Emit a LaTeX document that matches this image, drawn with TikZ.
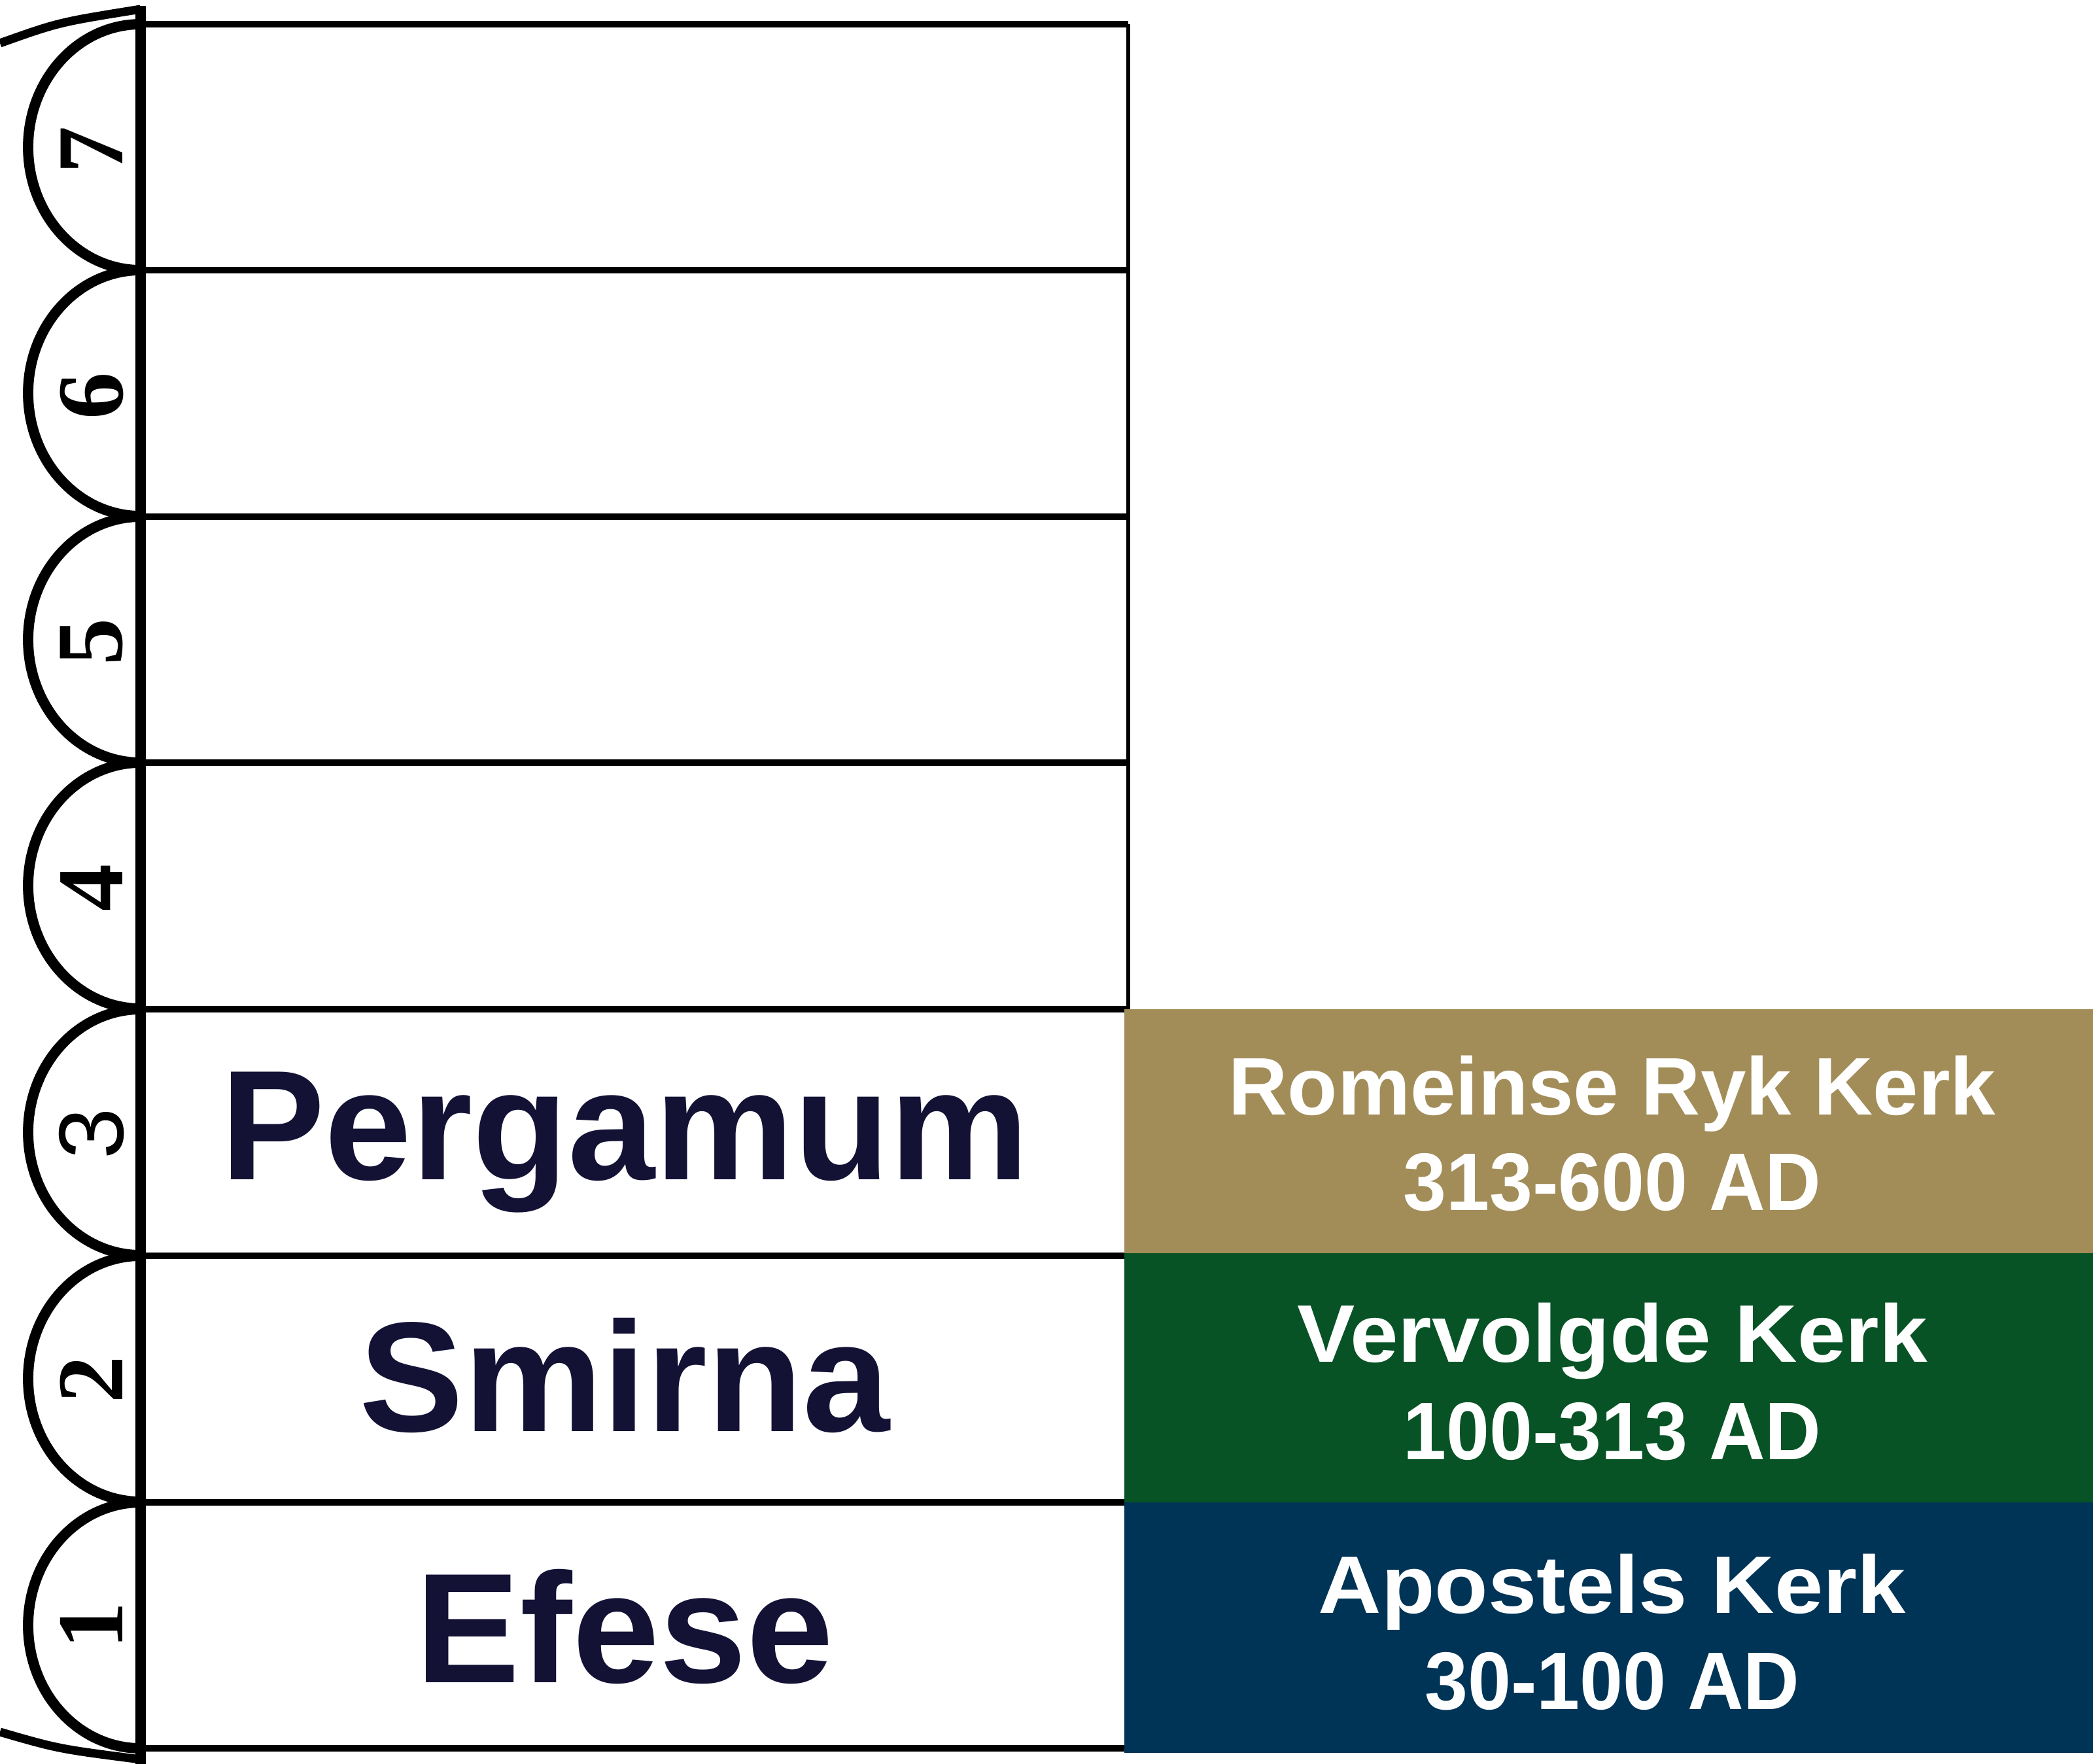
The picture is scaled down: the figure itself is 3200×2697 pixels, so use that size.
\documentclass[tikz,border=0pt]{standalone}
\usepackage{fontspec}
\setmainfont{Liberation Serif}
\setsansfont{Liberation Sans}
\definecolor{tanbox}{HTML}{A28D59}
\definecolor{greenbox}{HTML}{075325}
\definecolor{bluebox}{HTML}{003456}
\definecolor{navytext}{HTML}{131235}
\tikzset{
  rowline/.style={line width=2.6pt, black},
  borderline/.style={line width=1.7pt, black},
  spine/.style={line width=4.3pt, black},
  tabarc/.style={line width=4.5pt, black},
  outercurve/.style={line width=3.7pt, black},
  digitlabel/.style={rotate=90, inner sep=0pt, font=\fontsize{41}{41}\selectfont\bfseries},
  digitsans/.style={rotate=90, inner sep=0pt, font=\fontsize{40}{40}\selectfont\sffamily},
  church/.style={anchor=base, inner sep=0pt, text=navytext, font=\fontsize{68}{68}\selectfont\sffamily\bfseries},
  eralabel/.style={anchor=base, inner sep=0pt, text=white, font=\fontsize{35.5}{35.5}\selectfont\sffamily\bfseries}
}
\begin{document}
\begin{tikzpicture}[x=0.01cm, y=-0.01cm]
\useasboundingbox (0,0) rectangle (3200,2697);
% row separators
\foreach \yy in {37,413,790,1166,1543,1920,2297,2673}
  \draw[rowline] (215,\yy) -- (1725,\yy);
% right border of the empty rows
\draw[borderline] (1725,37) -- (1725,1543);
% tab half-ellipses
\foreach \tt in {37,413,790,1166,1543,1920,2297}
  \draw[tabarc] (215,\tt) arc[start angle=270, end angle=90, x radius=172, y radius=188];
% spine
\draw[spine] (215,9) -- (215,2697);
% outer curves
\draw[outercurve] (0,66) .. controls (90,34) .. (215,14);
\draw[outercurve] (0,2648) .. controls (90,2674) .. (215,2690);
% digits
\node[digitlabel] (d1) at (140,2485) {1};
\node[digitlabel] (d2) at (140,2109) {2};
\node[digitsans]  (d3) at (140,1733) {3};
\node[digitlabel] (d4) at (140,1357) {4};
\node[digitlabel] (d5) at (140,981) {5};
\node[digitlabel] (d6) at (140,605) {6};
\node[digitlabel] (d7) at (140,229) {7};
% church names
\node[church] (pergamum) at (955,1803) {Pergamum};
\node[church] (smirna) at (955,2188) {Smirna};
\node[church] (efese) at (955,2572) {Efese};
% coloured era boxes
\fill[tanbox] (1719,1543) rectangle (3200,1916);
\fill[greenbox] (1719,1916) rectangle (3200,2297);
\fill[bluebox] (1719,2297) rectangle (3200,2680);
\node[eralabel] (romeT) at (2465,1704) {Romeinse Ryk Kerk};
\node[eralabel, xscale=0.95] (romeD) at (2465,1850) {313-600 AD};
\node[eralabel, xscale=1.06] (vervT) at (2465,2082) {Vervolgde Kerk};
\node[eralabel, xscale=0.95] (vervD) at (2465,2231) {100-313 AD};
\node[eralabel, xscale=1.07] (apoT) at (2465,2466) {Apostels Kerk};
\node[eralabel, xscale=0.95] (apoD) at (2465,2613) {30-100 AD};
\end{tikzpicture}
\end{document}
